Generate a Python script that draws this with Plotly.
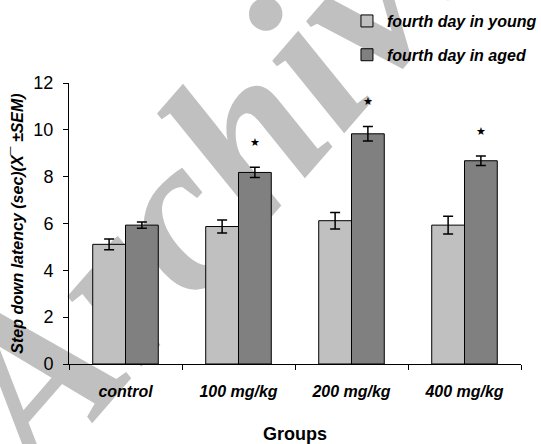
import plotly.graph_objects as go

categories = ["control", "100 mg/kg", "200 mg/kg", "400 mg/kg"]
young = [5.11, 5.87, 6.12, 5.93]
young_sem = [0.23, 0.28, 0.35, 0.38]
aged = [5.93, 8.18, 9.83, 8.68]
aged_sem = [0.13, 0.22, 0.31, 0.20]
significant = [False, True, True, True]

FONT = "Liberation Sans, Arial, sans-serif"

fig = go.Figure()
fig.add_trace(go.Bar(
    x=categories, y=young, name="fourth day in young",
    marker=dict(color="#C0C0C0", line=dict(color="black", width=1)),
    error_y=dict(type="data", array=young_sem, color="black", thickness=1.5, width=5),
    legendgroup="a",
))
fig.add_trace(go.Bar(
    x=categories, y=aged, name="fourth day in aged",
    marker=dict(color="#808080", line=dict(color="black", width=1)),
    error_y=dict(type="data", array=aged_sem, color="black", thickness=1.5, width=5),
    legendgroup="b",
))

bargap = 0.42
for i, (v, s, sig) in enumerate(zip(aged, aged_sem, significant)):
    if sig:
        fig.add_annotation(x=i + (1 - bargap) / 4, y=v + s + 1.05, xref="x", yref="y",
                           text="★", showarrow=False,
                           font=dict(family="DejaVu Sans", size=11, color="black"))

# watermark
fig.add_shape(type="rect", xref="paper", yref="paper", x0=0.092, x1=0.492, y0=0.572, y1=0.972,
              layer="below", line=dict(width=0), fillcolor="rgba(0,0,0,0)",
              label=dict(text="Archive", textangle=-49, textposition="middle center",
                         font=dict(family="Liberation Serif", size=222, color="#C0C0C0",
                                   weight="bold", style="italic")))

fig.update_layout(
    width=541, height=444,
    margin=dict(l=69, r=20, t=83, b=80, autoexpand=False),
    paper_bgcolor="white", plot_bgcolor="rgba(0,0,0,0)",
    barmode="group", bargap=bargap, bargroupgap=0,
    font=dict(family=FONT, color="black"),
    showlegend=True,
    legend=dict(x=0.615, y=1.281, xanchor="left", yanchor="top",
                font=dict(family=FONT, size=16, weight="bold", style="italic"),
                tracegroupgap=10, bgcolor="rgba(0,0,0,0)", itemwidth=30),
    xaxis=dict(
        showline=True, linecolor="black", linewidth=1, automargin=False,
        ticks="outside", ticklen=5, tickcolor="black", tickson="boundaries",
        tickfont=dict(family=FONT, size=16, weight="bold", style="italic"),
        ticklabelstandoff=13,
        title=dict(text="Groups", font=dict(family=FONT, size=18, weight="bold"), standoff=29),
        showgrid=False,
    ),
    yaxis=dict(
        range=[0, 12], dtick=2, showline=True, linecolor="black", linewidth=1, automargin=False,
        ticks="outside", ticklen=5, tickcolor="black", showgrid=False, zeroline=False,
        tickfont=dict(family=FONT, size=18), ticklabelstandoff=6,
        title=dict(text="Step down latency (sec)(X¯ ±SEM)",
                   font=dict(family=FONT, size=16, weight="bold", style="italic"), standoff=5),
    ),
)

fig.write_html("out.html", config={"displayModeBar": False},
               post_script="document.body.style.margin='0';document.body.style.overflow='hidden';")
